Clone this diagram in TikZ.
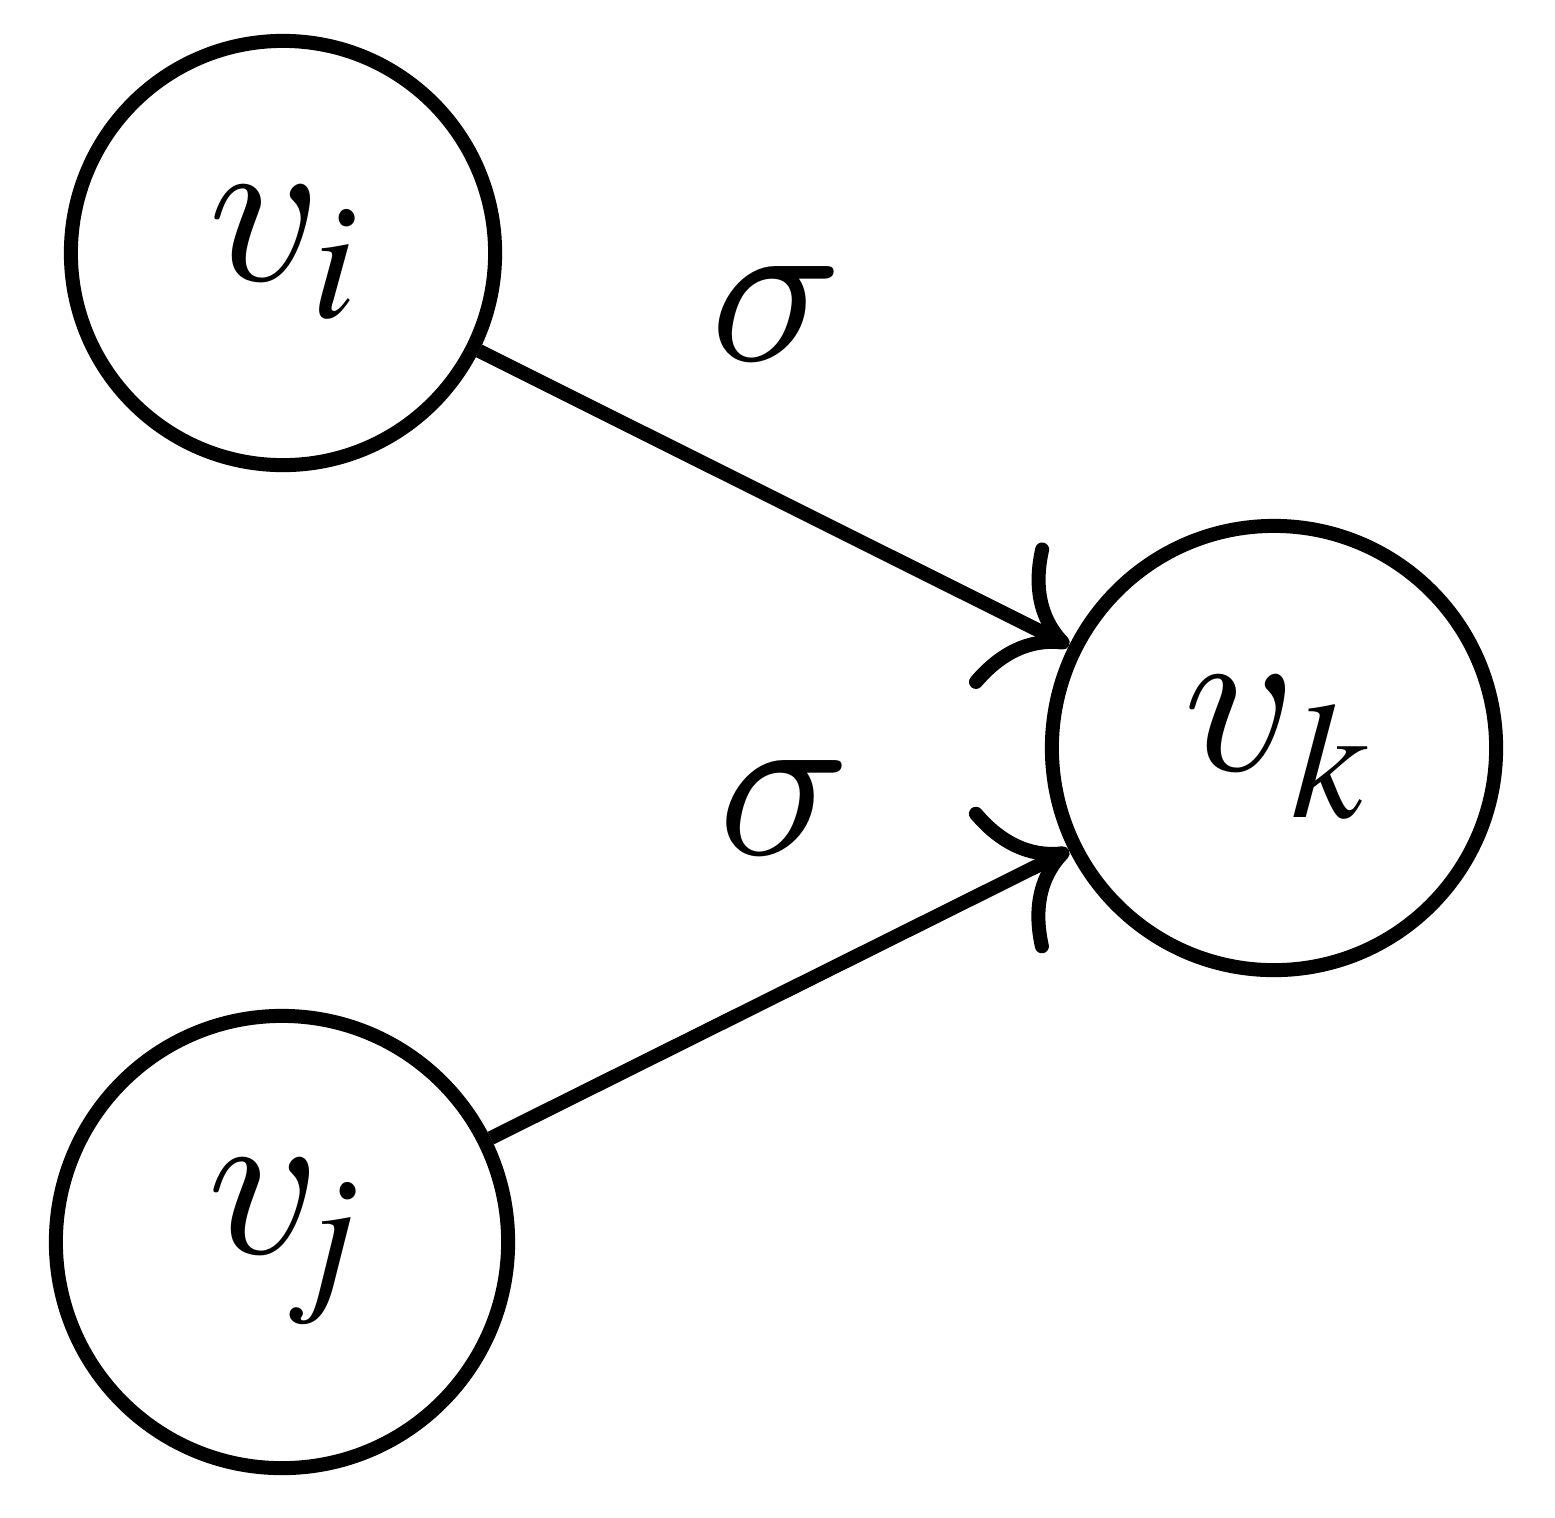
\documentclass[tikz,border=0pt]{standalone}
\usepackage[T1]{fontenc}
\DeclareFontFamily{OML}{cmm}{\skewchar\font127 }
\DeclareFontShape{OML}{cmm}{m}{it}{<->cmmi10}{}
\usetikzlibrary{arrows.meta}
\newcommand\mainsz{\fontsize{62}{70}\selectfont}
\newcommand\tsub[1]{{\fontencoding{T1}\fontfamily{ptm}\fontsize{47}{52}\fontshape{it}\selectfont #1}}
\newcommand\vsub[3]{$v$\kern#3\raisebox{#2}{\tsub{#1}}}
\tikzset{
  vertex/.style={circle, draw, line width=0.14cm, inner sep=0pt, font=\mainsz},
  edge/.style={line width=0.14cm, -{Computer Modern Rightarrow[length=0.74cm, width=1.62cm, line cap=round]}},
  wlabel/.style={inner sep=0pt, font=\mainsz}
}
\begin{document}
\begin{tikzpicture}[x=0.01cm, y=-0.01cm]
\useasboundingbox (0,0) rectangle (1555,1517);
\node[vertex, minimum size=4.24cm] (vi) at (283,253) {\vsub{i}{-10.5pt}{-2.8pt}};
\node[vertex, minimum size=4.52cm] (vj) at (282,1242) {\vsub{j}{-10.5pt}{-2.8pt}};
\node[vertex, minimum size=4.44cm] (vk) at (1274,748) {\vsub{k}{-13.5pt}{-1.5pt}};
\draw[edge] (vi) -- (vk);
\draw[edge] (vj) -- (vk);
\node[wlabel] (s1) at (777,314) {$\sigma$};
\node[wlabel] (s2) at (785,808) {$\sigma$};
\end{tikzpicture}
\end{document}
